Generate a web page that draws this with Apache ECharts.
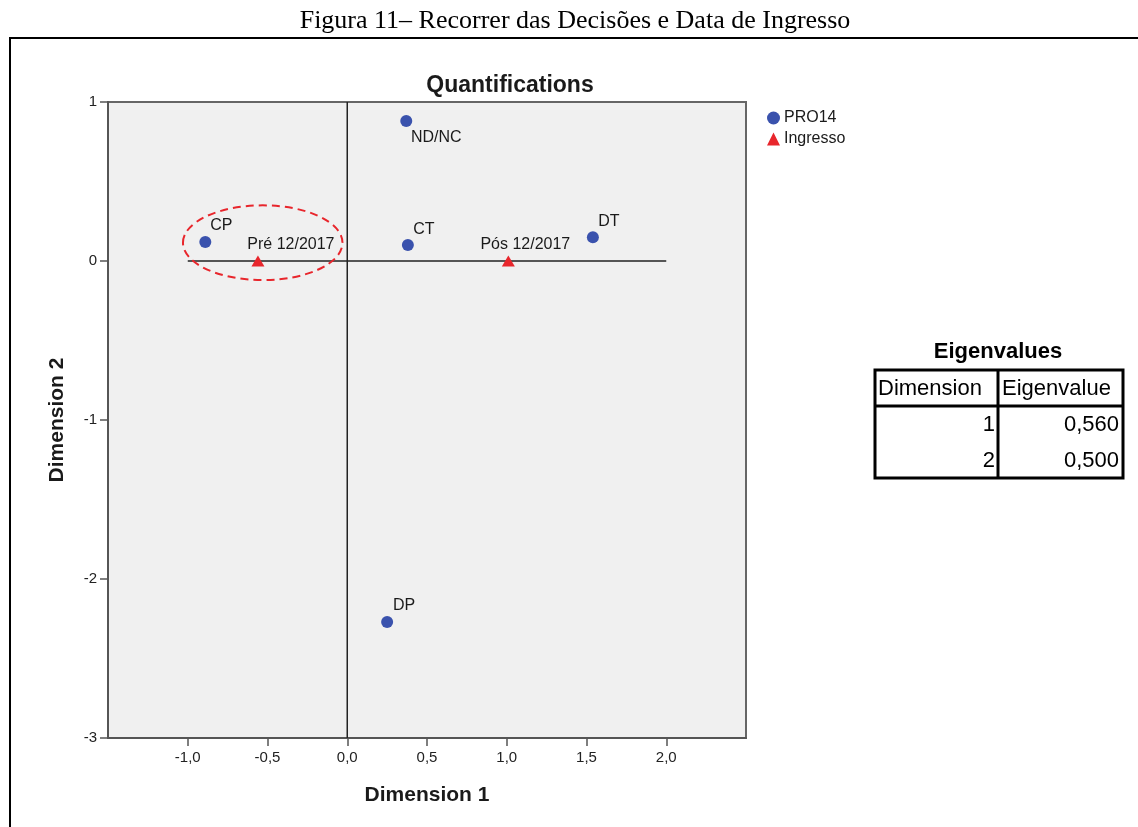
<!DOCTYPE html>
<html>
<head>
<meta charset="utf-8">
<script src="https://cdn.jsdelivr.net/npm/echarts@6/dist/echarts.min.js"></script>
<style>
html,body{margin:0;padding:0;background:#fff;}
#chart{width:1138px;height:827px;}
</style>
</head>
<body>
<div id="chart"></div>
<script>
// ---- data ----
var pro14Names = ['ND/NC', 'CP', 'CT', 'DT', 'DP'];
var pro14Dim1  = [0.37, -0.89, 0.38, 1.54, 0.25];
var pro14Dim2  = [0.88, 0.12, 0.10, 0.15, -2.27];

var ingressoNames = ['Pré 12/2017', 'Pós 12/2017'];
var ingressoDim1  = [-0.56, 1.01];
var ingressoDim2  = [0.0, 0.0];

var xTicks = [-1.0, -0.5, 0.0, 0.5, 1.0, 1.5, 2.0];
var yTicks = [-3, -2, -1, 0, 1];

var refH = [[-1, 0], [2, 0]];
var refV = [[0, -3], [0, 1]];

var eigenHeader = ['Dimension', 'Eigenvalue'];
var eigenDims   = ['1', '2'];
var eigenValues = ['0,560', '0,500'];

// highlighted group (ellipse), in data units
var ellipseCenter = [-0.53, 0.115];
var ellipseRadius = [0.50, 0.235];

// ---- styles ----
var labelPlace = {
  'ND/NC': {position: 'bottom', offset: [30, -1]},
  'CP': {position: 'top', offset: [16, 2]},
  'CT': {position: 'top', offset: [16, 2]},
  'DT': {position: 'top', offset: [16, 2]},
  'DP': {position: 'top', offset: [17, 2]},
  'Pré 12/2017': {position: 'top', offset: [33, 1]},
  'Pós 12/2017': {position: 'top', offset: [17, 1]}
};

function build(names, d1, d2) {
  return names.map(function (n, i) {
    var p = labelPlace[n];
    return {name: n, value: [d1[i], d2[i]],
      label: {show: true, formatter: n, position: p.position, offset: p.offset, distance: 4}};
  });
}

var fmt = function (v) { return v.toFixed(1).replace('.', ','); };
var font = 'Liberation Sans, Arial, sans-serif';
var chart = echarts.init(document.getElementById('chart'));

var option = {
  animation: false,
  backgroundColor: '#ffffff',
  textStyle: {fontFamily: font},
  title: {
    text: 'Quantifications',
    left: 505, top: 69, textAlign: 'center',
    textStyle: {fontFamily: font, fontSize: 23, fontWeight: 'bold', color: '#1a1a1a'}
  },
  legend: {
    data: ['PRO14', 'Ingresso'],
    orient: 'vertical',
    left: 762, top: 105,
    itemWidth: 13, itemHeight: 13, itemGap: 5,
    textStyle: {fontFamily: font, fontSize: 16, color: '#1a1a1a', padding: [0, 0, 0, -1]}
  },
  grid: {
    left: 108, top: 102, width: 638, height: 636,
    show: true, backgroundColor: '#f0f0f0', borderColor: '#666', borderWidth: 2
  },
  xAxis: {
    type: 'value', min: -1.5, max: 2.5, interval: 0.5,
    name: 'Dimension 1', nameLocation: 'middle', nameGap: 47,
    nameTextStyle: {fontFamily: font, fontSize: 21, fontWeight: 'bold', color: '#1a1a1a'},
    splitLine: {show: false},
    axisLine: {show: true, onZero: false, lineStyle: {color: '#555', width: 2}},
    axisTick: {show: true, length: 8, customValues: xTicks, lineStyle: {color: '#555', width: 1.5}},
    axisLabel: {customValues: xTicks, formatter: fmt, fontSize: 15, color: '#222', margin: 12, fontFamily: font}
  },
  yAxis: {
    type: 'value', min: -3, max: 1, interval: 1,
    name: 'Dimension 2', nameLocation: 'middle', nameGap: 40, nameRotate: 90,
    nameTextStyle: {fontFamily: font, fontSize: 21, fontWeight: 'bold', color: '#1a1a1a'},
    splitLine: {show: false},
    axisLine: {show: true, onZero: false, lineStyle: {color: '#555', width: 2}},
    axisTick: {show: true, length: 8, customValues: yTicks, lineStyle: {color: '#555', width: 1.5}},
    axisLabel: {customValues: yTicks, fontSize: 15, color: '#222', margin: 11, fontFamily: font}
  },
  series: [
    {type: 'line', data: refH, symbol: 'none', silent: true, z: 1,
     lineStyle: {color: '#222', width: 1.5}},
    {type: 'line', data: refV, symbol: 'none', silent: true, z: 1,
     lineStyle: {color: '#222', width: 1.5}},
    {name: 'PRO14', type: 'scatter', symbol: 'circle', symbolSize: 12, z: 3,
     itemStyle: {color: '#3a52ad', opacity: 1},
     label: {color: '#1a1a1a', fontSize: 16, fontFamily: font},
     data: build(pro14Names, pro14Dim1, pro14Dim2)},
    {name: 'Ingresso', type: 'scatter', symbol: 'triangle', symbolSize: [13, 11], z: 3,
     itemStyle: {color: '#e8262c', opacity: 1},
     label: {color: '#1a1a1a', fontSize: 16, fontFamily: font},
     data: build(ingressoNames, ingressoDim1, ingressoDim2)}
  ]
};
chart.setOption(option);

// ---- annotations: frame, caption, ellipse, eigenvalue table ----
var c = chart.convertToPixel({gridIndex: 0}, ellipseCenter);
var e = chart.convertToPixel({gridIndex: 0}, [ellipseCenter[0] + ellipseRadius[0], ellipseCenter[1] - ellipseRadius[1]]);

var tX = 875, tY = 370, tW = 248, colX = 998, rowH = 36, hdrH = 36;
var tf = 22;
var g = [
  {type: 'text', x: 575, y: 21, style: {text: 'Figura 11– Recorrer das Decisões e Data de Ingresso',
    fontFamily: 'Liberation Serif, Times New Roman, serif', fontSize: 26, fill: '#000',
    align: 'center', verticalAlign: 'middle'}},
  {type: 'line', shape: {x1: 10, y1: 38, x2: 1138, y2: 38}, style: {stroke: '#000', lineWidth: 2}},
  {type: 'line', shape: {x1: 10, y1: 37, x2: 10, y2: 827}, style: {stroke: '#000', lineWidth: 2}},
  {type: 'ellipse', z: 10, shape: {cx: c[0], cy: c[1], rx: e[0] - c[0], ry: e[1] - c[1]},
    style: {fill: 'none', stroke: '#e8262c', lineWidth: 2, lineDash: [8, 5]}},
  {type: 'text', x: 998, y: 352, style: {text: 'Eigenvalues', fontFamily: font, fontSize: 22,
    fontWeight: 'bold', fill: '#000', align: 'center', verticalAlign: 'middle'}}
];
var tH = hdrH + rowH * eigenDims.length;
g.push({type: 'rect', shape: {x: tX, y: tY, width: tW, height: tH},
  style: {fill: 'none', stroke: '#000', lineWidth: 3}});
g.push({type: 'line', shape: {x1: colX, y1: tY, x2: colX, y2: tY + tH}, style: {stroke: '#000', lineWidth: 3}});
g.push({type: 'line', shape: {x1: tX, y1: tY + hdrH, x2: tX + tW, y2: tY + hdrH}, style: {stroke: '#000', lineWidth: 3}});
g.push({type: 'text', x: tX + 3, y: tY + hdrH / 2 + 1, style: {text: eigenHeader[0], fontFamily: font, fontSize: tf,
  fill: '#000', verticalAlign: 'middle'}});
g.push({type: 'text', x: colX + 4, y: tY + hdrH / 2 + 1, style: {text: eigenHeader[1], fontFamily: font, fontSize: tf,
  fill: '#000', verticalAlign: 'middle'}});
eigenDims.forEach(function (d, i) {
  var cy = tY + hdrH + rowH * i + rowH / 2 + 1;
  g.push({type: 'text', x: colX - 3, y: cy, style: {text: d, fontFamily: font, fontSize: tf,
    fill: '#000', align: 'right', verticalAlign: 'middle'}});
  g.push({type: 'text', x: tX + tW - 4, y: cy, style: {text: eigenValues[i], fontFamily: font, fontSize: tf,
    fill: '#000', align: 'right', verticalAlign: 'middle'}});
});
chart.setOption({graphic: g});
</script>
</body>
</html>
